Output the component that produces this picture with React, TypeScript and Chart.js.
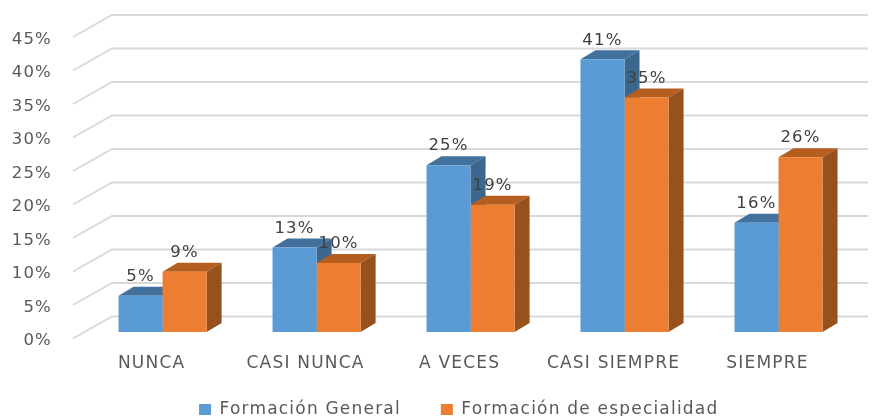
import React, { useEffect, useRef } from "react";
import { Chart, registerables } from "chart.js";

Chart.register(...registerables);

const categories = ["NUNCA", "CASI NUNCA", "A VECES", "CASI SIEMPRE", "SIEMPRE"];
const formacionGeneral = [5.4, 12.6, 24.9, 40.7, 16.3];
const formacionEspecialidad = [9.0, 10.3, 19.0, 35.0, 26.1];
const seriesNames = ["Formación General", "Formación de especialidad"];
const frontColors = ["#5B9BD5", "#ED7D31"];
const topColors = ["#41719C", "#B55E1F"];
const sideColors = ["#3B668E", "#97511C"];
const textColor = "#595959";
const dataLabelColor = "#404040";
const fontFamily = "'DejaVu Sans'";
const letterSpacing = "1.2px";

const DEPTH_X = 15;
const DEPTH_Y = 9;
const LEGEND_PADDING = 40;
const LEGEND_HEIGHT = 18;
const LEGEND_SHIFT = 31;
const LEGEND_CENTER_Y = 410;

const spacingPlugin = {
  id: "spacing",
  beforeLayout(chart: any) {
    chart.ctx.letterSpacing = letterSpacing;
    const legend = chart.legend;
    if (legend && !legend.__wrapped) {
      legend.__wrapped = true;
      const fit = legend.fit;
      legend.fit = function () {
        fit.call(this);
        this.height = LEGEND_HEIGHT;
      };
    }
  },
  afterLayout(chart: any) {
    const legend = chart.legend;
    legend.left += LEGEND_SHIFT;
    legend.right += LEGEND_SHIFT;
    legend.top = LEGEND_CENTER_Y - LEGEND_HEIGHT / 2 - LEGEND_PADDING;
    legend.bottom = 416;
  },
  beforeDraw(chart: any) {
    chart.ctx.letterSpacing = letterSpacing;
  },
};

const wallPlugin = {
  id: "wall3d",
  beforeDatasetsDraw(chart: any) {
    const { ctx, scales } = chart;
    ctx.save();
    ctx.strokeStyle = "#D9D9D9";
    ctx.lineWidth = 1.8;
    scales.y.ticks.forEach((t: any) => {
      const py = scales.y.getPixelForValue(t.value);
      ctx.beginPath();
      ctx.moveTo(73, py + 6.5);
      ctx.lineTo(112, py - 15.5);
      ctx.lineTo(868, py - 15.5);
      ctx.stroke();
    });
    chart.data.datasets.forEach((_: any, d: number) => {
      chart.getDatasetMeta(d).data.forEach((b: any) => {
        const l = b.x - b.width / 2;
        const r = b.x + b.width / 2;
        ctx.fillStyle = topColors[d];
        ctx.beginPath();
        ctx.moveTo(l, b.y);
        ctx.lineTo(l + DEPTH_X, b.y - DEPTH_Y);
        ctx.lineTo(r + DEPTH_X, b.y - DEPTH_Y);
        ctx.lineTo(r, b.y);
        ctx.closePath();
        ctx.fill();
        ctx.fillStyle = sideColors[d];
        ctx.beginPath();
        ctx.moveTo(r, b.y);
        ctx.lineTo(r + DEPTH_X, b.y - DEPTH_Y);
        ctx.lineTo(r + DEPTH_X, b.base - DEPTH_Y);
        ctx.lineTo(r, b.base);
        ctx.closePath();
        ctx.fill();
      });
    });
    ctx.restore();
  },
  afterDatasetsDraw(chart: any) {
    const { ctx } = chart;
    ctx.save();
    ctx.fillStyle = dataLabelColor;
    ctx.font = `16.5px ${fontFamily}`;
    ctx.textAlign = "center";
    ctx.textBaseline = "middle";
    chart.data.datasets.forEach((ds: any, d: number) => {
      chart.getDatasetMeta(d).data.forEach((b: any, i: number) => {
        ctx.fillText(`${Math.round(ds.data[i])}%`, b.x, b.y - 19);
      });
    });
    ctx.restore();
  },
};

export default function App() {
  const ref = useRef<HTMLCanvasElement>(null);
  useEffect(() => {
    const chart = new Chart(ref.current!, {
      type: "bar",
      data: {
        labels: categories,
        datasets: [
          { label: seriesNames[0], data: formacionGeneral, backgroundColor: frontColors[0], borderWidth: 0 },
          { label: seriesNames[1], data: formacionEspecialidad, backgroundColor: frontColors[1], borderWidth: 0 },
        ],
      },
      plugins: [spacingPlugin, wallPlugin],
      options: {
        animation: false,
        responsive: false,
        devicePixelRatio: 1,
        layout: { padding: { top: 30.5, left: 0, right: 17.5, bottom: 0 } },
        font: { family: fontFamily },
        datasets: { bar: { barPercentage: 1, categoryPercentage: 0.572 } },
        plugins: {
          tooltip: { enabled: false },
          legend: {
            position: "bottom",
            labels: {
              color: textColor,
              font: { family: fontFamily, size: 17 },
              boxWidth: 12,
              boxHeight: 11,
              padding: LEGEND_PADDING,
            },
          },
        },
        scales: {
          x: {
            grid: { display: false, drawTicks: false },
            border: { display: false },
            afterFit: (s: any) => { s.height = 66; s.paddingLeft = 0; s.paddingRight = 0; },
            ticks: {
              color: textColor,
              font: { family: fontFamily, size: 17 },
              labelOffset: -11,
              padding: 21,
              maxRotation: 0,
              autoSkip: false,
            },
          },
          y: {
            min: 0,
            max: 45,
            grid: { display: false, drawTicks: false },
            border: { display: false },
            afterFit: (s: any) => { s.width = 85.6; s.paddingTop = 0; s.paddingBottom = 0; },
            ticks: {
              stepSize: 5,
              color: textColor,
              font: { family: fontFamily, size: 16.5 },
              padding: 33.6,
              labelOffset: 9,
              callback: (v: any) => `${v}%`,
            },
          },
        },
      } as any,
    });
    return () => chart.destroy();
  }, []);
  return (
    <canvas
      ref={ref}
      width={873}
      height={416}
      style={{ position: "absolute", left: 0, top: 0, width: 873, height: 416, background: "#fff", filter: "blur(0.4px)" }}
    />
  );
}
